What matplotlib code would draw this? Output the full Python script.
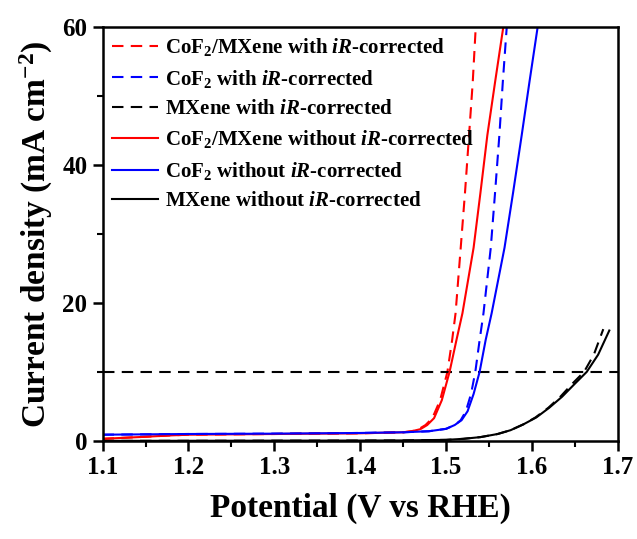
"""LSV polarisation curves for CoF2/MXene, CoF2 and MXene with and without iR correction."""

import matplotlib
matplotlib.use('Agg')
import matplotlib.pyplot as plt
from matplotlib.ticker import MultipleLocator


# Red: CoF2/MXene
RED_SOLID_V = [1.10, 1.15, 1.18, 1.20, 1.30, 1.40, 1.45, 1.46, 1.47, 1.478,
               1.486, 1.495, 1.504, 1.512, 1.519, 1.532, 1.540, 1.548, 1.557, 1.5666]
RED_SOLID_J = [0.3, 0.6, 0.8, 0.9, 1.0, 1.1, 1.25, 1.4, 1.7, 2.3,
               3.3, 5.9, 10.0, 14.6, 18.5, 28.0, 36.0, 44.3, 52.0, 60.0]
RED_DASH_V = [1.10, 1.15, 1.18, 1.20, 1.30, 1.40, 1.45, 1.46, 1.468, 1.476,
              1.484, 1.493, 1.5015, 1.507, 1.511, 1.517, 1.522, 1.5267, 1.531, 1.5345]
RED_DASH_J = [0.3, 0.6, 0.8, 0.9, 1.0, 1.1, 1.25, 1.4, 1.7, 2.3,
              3.3, 5.9, 10.0, 14.6, 18.5, 28.0, 36.0, 44.3, 52.0, 60.0]

# Blue: CoF2
BLUE_SOLID_V = [1.10, 1.20, 1.30, 1.40, 1.45, 1.48, 1.50, 1.51, 1.518, 1.525,
                1.532, 1.539, 1.546, 1.553, 1.568, 1.578, 1.588, 1.597, 1.6066]
BLUE_SOLID_J = [0.9, 1.0, 1.05, 1.15, 1.25, 1.4, 1.75, 2.3, 3.0, 4.3,
                6.8, 10.0, 14.6, 18.5, 28.0, 36.0, 44.3, 52.0, 60.0]
BLUE_DASH_V = [1.10, 1.20, 1.30, 1.40, 1.45, 1.48, 1.50, 1.51, 1.517, 1.523,
               1.529, 1.534, 1.539, 1.5435, 1.552, 1.557, 1.562, 1.566, 1.5706]
BLUE_DASH_J = [0.9, 1.0, 1.05, 1.15, 1.25, 1.4, 1.75, 2.3, 3.0, 4.3,
               6.8, 10.0, 14.6, 18.5, 28.0, 36.0, 44.3, 52.0, 60.0]

# Black: MXene
BLACK_SOLID_V = [1.10, 1.40, 1.45, 1.50, 1.52, 1.54, 1.56, 1.575, 1.59, 1.605,
                 1.62, 1.635, 1.65, 1.6637, 1.677, 1.690]
BLACK_SOLID_J = [0.0, 0.05, 0.07, 0.15, 0.3, 0.55, 1.0, 1.55, 2.4, 3.4,
                 4.8, 6.4, 8.3, 10.0, 12.5, 16.0]
BLACK_DASH_V = [1.10, 1.40, 1.45, 1.50, 1.52, 1.54, 1.56, 1.575, 1.59, 1.604,
                1.619, 1.633, 1.647, 1.6606, 1.672, 1.683]
BLACK_DASH_J = [0.0, 0.05, 0.07, 0.15, 0.3, 0.55, 1.0, 1.55, 2.4, 3.4,
                4.8, 6.4, 8.3, 10.0, 12.5, 16.2]

REF_J = 10  # 10 mA cm-2 benchmark

IR = r'$\mathit{iR}$'
LABELS = [
    f'CoF$_2$/MXene with {IR}-corrected',
    f'CoF$_2$ with {IR}-corrected',
    f'MXene with {IR}-corrected',
    f'CoF$_2$/MXene without {IR}-corrected',
    f'CoF$_2$ without {IR}-corrected',
    f'MXene without {IR}-corrected',
]

DASH = (0, (5.5, 3.5))


def setup_fonts():
    plt.rcParams['font.family'] = ['Liberation Serif', 'DejaVu Serif']
    plt.rcParams['font.weight'] = 'bold'
    plt.rcParams['mathtext.fontset'] = 'custom'
    plt.rcParams['mathtext.rm'] = 'Liberation Serif:bold'
    plt.rcParams['mathtext.it'] = 'Liberation Serif:bold:italic'
    plt.rcParams['mathtext.bf'] = 'Liberation Serif:bold'


def main():
    setup_fonts()
    fig = plt.figure(figsize=(6.37, 5.39), dpi=100)
    ax = fig.add_axes([0.161, 0.182, 0.809, 0.768])

    lw = 1.5
    ax.plot(RED_DASH_V, RED_DASH_J, color='#ff0000', ls=DASH, lw=lw, label=LABELS[0])
    ax.plot(BLUE_DASH_V, BLUE_DASH_J, color='#0000ff', ls=DASH, lw=lw, label=LABELS[1])
    ax.axhline(REF_J, color='black', ls=DASH, lw=lw, label=LABELS[2])
    ax.plot(BLACK_DASH_V, BLACK_DASH_J, color='black', ls=DASH, lw=lw)
    ax.plot(RED_SOLID_V, RED_SOLID_J, color='#ff0000', lw=lw, label=LABELS[3])
    ax.plot(BLUE_SOLID_V, BLUE_SOLID_J, color='#0000ff', lw=lw, label=LABELS[4])
    ax.plot(BLACK_SOLID_V, BLACK_SOLID_J, color='black', lw=lw, label=LABELS[5])

    ax.set_xlim(1.1, 1.7)
    ax.set_ylim(0, 60)
    ax.xaxis.set_major_locator(MultipleLocator(0.1))
    ax.xaxis.set_minor_locator(MultipleLocator(0.05))
    ax.yaxis.set_major_locator(MultipleLocator(20))
    ax.yaxis.set_minor_locator(MultipleLocator(10))
    ax.tick_params(which='major', direction='out', length=7, width=1.8,
                   labelsize=18, pad=4)
    ax.tick_params(which='minor', direction='out', length=4, width=1.5)
    for sp in ax.spines.values():
        sp.set_linewidth(1.8)

    ax.set_xlabel('Potential (V vs RHE)', fontsize=24, fontweight='bold', labelpad=10)
    ax.set_ylabel('Current density (mA cm$^{-2}$)', fontsize=24,
                  fontweight='bold', labelpad=5)

    ax.legend(loc='upper left', frameon=False, fontsize=15,
              handlelength=2.2, handletextpad=0.35, labelspacing=0.45,
              borderaxespad=0.15, borderpad=0.3)

    fig.savefig('out.png', dpi=100)


if __name__ == '__main__':
    main()
